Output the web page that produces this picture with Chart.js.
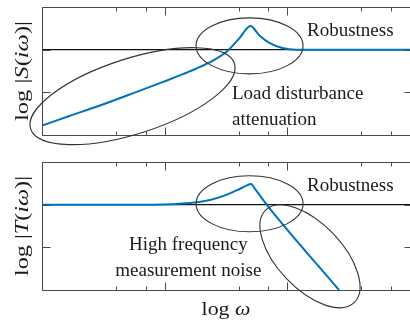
<!DOCTYPE html>
<html>
<head>
<meta charset="utf-8">
<script src="https://cdn.jsdelivr.net/npm/chart.js@4.4.1/dist/chart.umd.min.js"></script>
<style>
  html, body { margin: 0; padding: 0; background: #fff; overflow: hidden; }
  #wrap { position: relative; width: 410px; height: 326px; }
  canvas { position: absolute; left: 0; }
  #sChart { top: 0; }
  #tChart { top: 160px; }
</style>
</head>
<body>
<div id="wrap">
  <canvas id="sChart" width="410" height="160"></canvas>
  <canvas id="tChart" width="410" height="166"></canvas>
</div>
<script>
// sensitivity |S| (omega, log magnitude)
const OMEGA_S = [1, 1.69, 2.96, 5.19, 9.6, 16, 23.2, 32.5, 40.7, 50, 59, 71.4, 91, 118, 1000];
const LOG_S = [-1.78, -1.55, -1.31, -1.05, -0.76, -0.51, -0.30, -0.03, 0.27, 0.555, 0.34, 0.16, 0.04, 0, 0];

// complementary sensitivity |T|
const OMEGA_T = [1, 8, 16.1, 23.4, 29.9, 38.9, 46, 50.6, 54.5, 68.3, 263.8];
const LOG_T = [0, 0, 0.04, 0.11, 0.2, 0.34, 0.44, 0.485, 0.37, -0.01, -2.0];

// reference line log|.| = 0
const OMEGA_REF = [1, 1000];
const LOG_REF = [0, 0];

const X_TICKS = [
  1, 2, 3, 4, 5, 6, 7, 8, 9,
  10, 20, 30, 40, 50, 60, 70, 80, 90,
  100, 200, 300, 400, 500, 600, 700, 800, 900, 1000,
];
const Y_TICKS = [-2, -1, 0, 1];

const BLUE = "#0072bd";
const INK = "#1a1a1a";
const SERIF = '"Liberation Serif", "Times New Roman", serif';

// annotations, in data units (omega, log value)
const S_NOTES = {
  ellipses: [
    { w: 5.47, y: -1.09, a: 107, b: 37.6, rot: -17.8 },
    { w: 49.2, y: 0.09, a: 53.5, b: 28, rot: 0 },
  ],
  texts: [
    { text: "Robustness", w: 144.6, y: 0.31, align: "left" },
    { text: "Load disturbance", w: 35.4, y: -1.15, align: "left" },
    { text: "attenuation", w: 35.4, y: -1.76, align: "left" },
  ],
  yTitle: [["log |", false], ["S", true], ["(", false], ["iω", true], [")|", false]],
  xTitle: null,
};
const T_NOTES = {
  ellipses: [
    { w: 49.2, y: 0.02, a: 53.5, b: 28, rot: 0 },
    { w: 153, y: -1.21, a: 64, b: 32.4, rot: 46.4 },
  ],
  texts: [
    { text: "Robustness", w: 144.6, y: 0.31, align: "left" },
    { text: "High frequency", w: 15.6, y: -1.06, align: "center" },
    { text: "measurement noise", w: 15.6, y: -1.67, align: "center" },
  ],
  yTitle: [["log |", false], ["T", true], ["(", false], ["iω", true], [")|", false]],
  xTitle: [["log ", false], ["ω", true]],
};

function pairs(xs, ys) {
  return xs.map((x, i) => ({ x: x, y: ys[i] }));
}

function measureRuns(ctx, runs, size) {
  let total = 0;
  runs.forEach(([t, it]) => {
    ctx.font = (it ? "italic " : "") + size + "px " + SERIF;
    total += ctx.measureText(t).width;
  });
  return total;
}

function paintRuns(ctx, runs, size, startX) {
  let cx = startX;
  runs.forEach(([t, it]) => {
    ctx.font = (it ? "italic " : "") + size + "px " + SERIF;
    ctx.fillText(t, cx, 0);
    cx += ctx.measureText(t).width;
  });
}

function framePlugin(notes) {
  return {
    id: "frame",
    afterDatasetsDraw(chart) {
      const { ctx, chartArea: a, scales } = chart;
      const x = scales.x, y = scales.y;
      const L = Math.round(a.left) + 0.5;
      const R = Math.round(a.right) + 0.5;
      const T = Math.round(a.top) + 0.5;
      const B = Math.round(a.bottom) + 0.5;

      ctx.save();
      ctx.strokeStyle = "#4a4a4a";
      ctx.lineWidth = 1;
      ctx.beginPath();
      ctx.moveTo(R, T);
      ctx.lineTo(L, T);
      ctx.lineTo(L, B);
      ctx.lineTo(R, B);
      x.ticks.forEach((t) => {
        const px = Math.round(x.getPixelForValue(t.value)) + 0.5;
        const len = Number.isInteger(Math.log10(t.value)) ? 8 : 4;
        ctx.moveTo(px, T);
        ctx.lineTo(px, T + len);
        ctx.moveTo(px, B);
        ctx.lineTo(px, B - len);
      });
      y.ticks.forEach((t) => {
        const py = Math.round(y.getPixelForValue(t.value)) + 0.5;
        ctx.moveTo(L, py);
        ctx.lineTo(L + 8, py);
        ctx.moveTo(R, py);
        ctx.lineTo(R - 6, py);
      });
      ctx.stroke();

      // ellipses
      ctx.strokeStyle = "#333";
      ctx.lineWidth = 1.1;
      notes.ellipses.forEach((e) => {
        ctx.beginPath();
        ctx.ellipse(
          x.getPixelForValue(e.w),
          y.getPixelForValue(e.y),
          e.a, e.b, (e.rot * Math.PI) / 180, 0, Math.PI * 2,
        );
        ctx.stroke();
      });

      // labels
      ctx.fillStyle = INK;
      ctx.textBaseline = "alphabetic";
      ctx.font = "19px " + SERIF;
      notes.texts.forEach((n) => {
        ctx.textAlign = n.align;
        ctx.fillText(n.text, x.getPixelForValue(n.w), y.getPixelForValue(n.y));
      });
      ctx.textAlign = "left";

      // y title, rotated
      const size = 19;
      const w = measureRuns(ctx, notes.yTitle, size);
      ctx.save();
      ctx.translate(28, (a.top + a.bottom) / 2);
      ctx.rotate(-Math.PI / 2);
      ctx.scale(100 / w, 1);
      paintRuns(ctx, notes.yTitle, size, -w / 2);
      ctx.restore();

      if (notes.xTitle) {
        const xw = measureRuns(ctx, notes.xTitle, size);
        ctx.save();
        ctx.translate((a.left + a.right) / 2, a.bottom + 25);
        ctx.scale(1.15, 1);
        paintRuns(ctx, notes.xTitle, size, -xw / 2);
        ctx.restore();
      }
      ctx.restore();
    },
  };
}

function makeChart(id, omega, vals, notes, pad) {
  return new Chart(document.getElementById(id), {
    type: "line",
    data: {
      datasets: [
        {
          data: pairs(omega, vals),
          borderColor: BLUE,
          borderWidth: 2,
          pointRadius: 0,
          cubicInterpolationMode: "monotone",
        },
        {
          data: pairs(OMEGA_REF, LOG_REF),
          borderColor: "#111",
          borderWidth: 1.3,
          pointRadius: 0,
        },
      ],
    },
    options: {
      responsive: false,
      animation: false,
      devicePixelRatio: 1,
      events: [],
      layout: { padding: pad },
      plugins: { legend: { display: false }, tooltip: { enabled: false } },
      scales: {
        x: {
          type: "logarithmic",
          min: 1,
          max: 1000,
          display: false,
          afterBuildTicks: (s) => {
            s.ticks = X_TICKS.map((v) => ({ value: v }));
          },
        },
        y: {
          type: "linear",
          min: -2,
          max: 1,
          display: false,
          afterBuildTicks: (s) => {
            s.ticks = Y_TICKS.map((v) => ({ value: v }));
          },
        },
      },
    },
    plugins: [framePlugin(notes)],
  });
}

makeChart("sChart", OMEGA_S, LOG_S, S_NOTES, { left: 42, right: 0, top: 7, bottom: 25 });
makeChart("tChart", OMEGA_T, LOG_T, T_NOTES, { left: 42, right: 0, top: 2, bottom: 36 });
</script>
</body>
</html>
